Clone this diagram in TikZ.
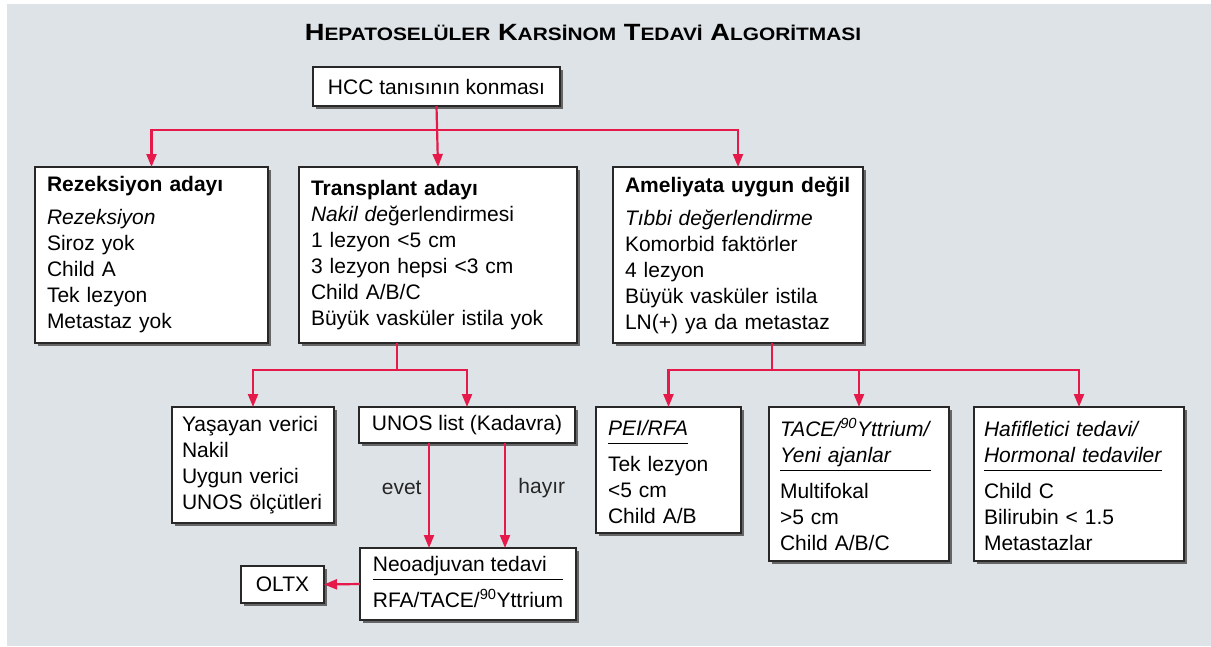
\documentclass[tikz,border=0pt]{standalone}
\usepackage{fontspec}
\usepackage{graphicx}
\setmainfont{Liberation Sans}
\usetikzlibrary{arrows.meta,shadows}

\definecolor{okrengi}{RGB}{230,25,75}
\definecolor{zemin}{RGB}{222,227,231}
\definecolor{cerceve}{RGB}{40,40,40}
\setlength{\arrayrulewidth}{1.2pt}

% kucuk buyuk harf (baslik icin)
\newcommand{\kk}[1]{{\fontsize{18}{20}\selectfont #1}}
% altcizgili baslik satirlari
\newcommand{\cizgili}[1]{\begin{tabular}[b]{@{}l@{}}#1\\\hline\end{tabular}}

\tikzset{
  kutu/.style={draw=cerceve, line width=1.2pt, fill=white, anchor=north west,
    align=left, inner xsep=12pt, inner ysep=0pt, outer sep=0pt,
    drop shadow={shadow xshift=3pt, shadow yshift=-3pt, fill=black!60, opacity=1}},
  ok/.style={draw=okrengi, line width=2.2pt, line join=miter, -{Triangle[length=13pt,width=10pt]}},
}

\begin{document}
\begin{tikzpicture}[x=1pt, y=-1pt, font=\fontsize{21}{26}\selectfont]
\useasboundingbox (0,0) rectangle (1211,646);
\fill[zemin] (7,4) rectangle (1211,646);

% baslik
\node[font=\bfseries\fontsize{23.5}{26}\selectfont] (baslik) at (583,33)
  {\scalebox{1.16}[1]{H\kk{EPATOSELÜLER} K\kk{ARSİNOM} T\kk{EDAVİ} A\kk{LGORİTMASI}}};

% ust sira
\node[kutu, minimum width=247pt, minimum height=39pt, align=center] (hcc) at (313,67) {HCC tanısının konması};

\node[kutu, text width=209pt, minimum height=176pt] (rezeksiyon) at (35,167)
  {\textbf{Rezeksiyon adayı}\\[7pt] \textit{Rezeksiyon}\\ Siroz yok\\ Child A\\ Tek lezyon\\ Metastaz yok};
\node[kutu, text width=254pt, minimum height=176pt] (transplant) at (299,167)
  {\textbf{Transplant adayı}\\ \textit{Nakil de}ğerlendirmesi\\ 1 lezyon <5 cm\\ 3 lezyon hepsi <3 cm\\ Child A/B/C\\ Büyük vasküler istila yok};
\node[kutu, text width=226pt, minimum height=176pt] (ameliyat) at (613,167)
  {\textbf{Ameliyata uygun değil}\\[7pt] \textit{Tıbbi değerlendirme}\\ Komorbid faktörler\\ 4 lezyon\\ Büyük vasküler istila\\ LN(+) ya da metastaz};

% alt sira
\node[kutu, text width=142pt, inner xsep=10pt, minimum height=116pt] (yasayan) at (172,407)
  {Yaşayan verici\\ Nakil\\ Uygun verici\\ UNOS ölçütleri};
\node[kutu, minimum width=216pt, minimum height=36pt, align=center] (unos) at (359,407) {UNOS list (Kadavra)};
\node[kutu, minimum width=216pt, minimum height=72pt, inner xsep=9pt] (neo) at (360,548)
  {\begin{tabular}{@{}l@{}}Neoadjuvan tedavi\\\hline\rule{0pt}{27pt}RFA/TACE/\textsuperscript{90}Yttrium\end{tabular}};
\node[kutu, minimum width=83pt, minimum height=37pt, align=center] (oltx) at (241,566) {OLTX};

\node[kutu, text width=121pt, minimum height=126pt] (pei) at (596,407)
  {\cizgili{\textit{PEI/RFA}}\\[1pt] Tek lezyon\\ <5 cm\\ Child A/B};
\node[kutu, text width=158pt, inner xsep=11pt, minimum height=154pt] (tace) at (769,407)
  {\cizgili{\textit{TACE/\textsuperscript{90}Yttrium/}\\ \textit{Yeni ajanlar}}\\[1pt] Multifokal\\ >5 cm\\ Child A/B/C};
\node[kutu, text width=190pt, inner xsep=10pt, minimum height=154pt] (hafif) at (974,407)
  {\cizgili{\textit{Hafifletici tedavi/}\\ \textit{Hormonal tedaviler}}\\[1pt] Child C\\ Bilirubin < 1.5\\ Metastazlar};

% oklar
\draw[ok] (hcc.south) -- (transplant.north);
\draw[ok] ([yshift=-24pt]hcc.south) -| (rezeksiyon.north);
\draw[ok] ([yshift=-24pt]hcc.south) -| (ameliyat.north);

\draw[ok] ([xshift=-41pt]transplant.south) -- ++(0,27) -| (yasayan.north);
\draw[ok] ([xshift=-41pt]transplant.south) -- ++(0,27) -| (unos.north);

\draw[ok] ([xshift=34pt]ameliyat.south) -- ++(0,27) -| (pei.north);
\draw[ok] ([xshift=34pt]ameliyat.south) -- ++(0,27) -| (tace.north);
\draw[ok] ([xshift=34pt]ameliyat.south) -- ++(0,27) -| (hafif.north);

\draw[ok] ([xshift=-38pt]unos.south) -- ([xshift=-38pt]unos.south |- neo.north)
  node[pos=0.43, left=3pt, text=black!85] {evet};
\draw[ok] ([xshift=38pt]unos.south) -- ([xshift=38pt]unos.south |- neo.north)
  node[pos=0.43, right=9pt, text=black!85] {hayır};
\draw[ok] (neo.west) -- (oltx.east);
\end{tikzpicture}
\end{document}
